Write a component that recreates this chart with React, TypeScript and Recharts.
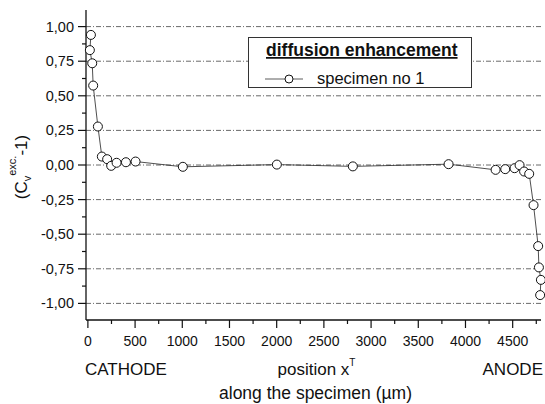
import React from "react";
import { Line, LineChart, ReferenceLine, XAxis, YAxis } from "recharts";

const FONT = '"Liberation Sans", Arial, Helvetica, sans-serif';
const INK = "#111";

// position x^T along the specimen (µm)
const positions = [
  32, 21, 46, 56, 106, 148, 204, 247, 304, 403, 505, 1006, 2002, 2807, 3821,
  4319, 4421, 4520, 4573, 4621, 4675, 4721, 4770, 4778, 4799, 4791,
];
// (Cv_exc - 1), specimen no 1
const enhancement = [
  0.94, 0.83, 0.735, 0.574, 0.278, 0.061, 0.042, -0.006, 0.016, 0.02, 0.025,
  -0.013, 0.003, -0.01, 0.006, -0.035, -0.03, -0.023, -0.001, -0.047, -0.064,
  -0.29, -0.586, -0.74, -0.83, -0.94,
];

const xMajor = [0, 500, 1000, 1500, 2000, 2500, 3000, 3500, 4000, 4500];
const xMinor = [250, 750, 1250, 1750, 2250, 2750, 3250, 3750, 4250, 4750];
const yMajor = [-1, -0.75, -0.5, -0.25, 0, 0.25, 0.5, 0.75, 1];
const yMinor = [-0.875, -0.625, -0.375, -0.125, 0.125, 0.375, 0.625, 0.875];

const xTicks = [...xMajor, ...xMinor].sort((a, b) => a - b);
const yTicks = [...yMajor, ...yMinor].sort((a, b) => a - b);

const data = positions.map((x, i) => ({ x, y: enhancement[i] }));

const fmtY = (v: number) => v.toFixed(2).replace(".", ",");

function BottomTick({ x, y, payload }: any) {
  const major = xMajor.includes(payload.value);
  return (
    <g>
      <line x1={x} x2={x} y1={y} y2={y + (major ? 8 : 4)} stroke={INK} strokeWidth={1.2} />
      {major && (
        <text x={x} y={y + 26} textAnchor="middle" fontSize={14} fontFamily={FONT} fill={INK}>
          {payload.value}
        </text>
      )}
    </g>
  );
}

function TopTick({ x, y, payload }: any) {
  const major = xMajor.includes(payload.value);
  return <line x1={x} x2={x} y1={y} y2={y + (major ? 7 : 4)} stroke={INK} strokeWidth={1.2} />;
}

function LeftTick({ x, y, payload }: any) {
  const major = yMajor.includes(payload.value);
  return (
    <g>
      <line x1={x - (major ? 8 : 4)} x2={x} y1={y} y2={y} stroke={INK} strokeWidth={1.2} />
      {major && (
        <text x={x - 12} y={y + 5} textAnchor="end" fontSize={14.5} fontFamily={FONT} fill={INK}>
          {fmtY(payload.value)}
        </text>
      )}
    </g>
  );
}

function RightTick({ x, y, payload }: any) {
  const major = yMajor.includes(payload.value);
  return <line x1={x - (major ? 7 : 4)} x2={x} y1={y} y2={y} stroke={INK} strokeWidth={1.2} />;
}

function XTitles({ viewBox }: any) {
  const { x, y, width } = viewBox;
  const cx = x + width / 2;
  return (
    <g fontFamily={FONT} fontSize={17} fill={INK}>
      <text x={x - 1} y={y + 55}>CATHODE</text>
      <text x={cx + 3} y={y + 55} textAnchor="middle">
        position x<tspan fontSize={10} dy={-9}>T</tspan>
      </text>
      <text x={x + width + 2} y={y + 55} textAnchor="end">ANODE</text>
      <text x={cx + 2} y={y + 79} textAnchor="middle" fontSize={17.5}>
        along the specimen (µm)
      </text>
    </g>
  );
}

function YTitle() {
  return (
    <text
      transform="translate(27,167) rotate(-90)"
      textAnchor="middle"
      fontFamily={FONT}
      fontSize={17}
      fill={INK}
    >
      (C<tspan fontSize={11} dy={4}>v</tspan>
      <tspan fontSize={11} dy={-15}>exc.</tspan>
      <tspan dy={11}>-1)</tspan>
    </text>
  );
}

function LegendBox() {
  return (
    <svg
      width={545}
      height={404}
      style={{ position: "absolute", left: 0, top: 0, pointerEvents: "none" }}
    >
      <rect x={248.5} y={37.5} width={223} height={50} fill="#fff" stroke="#333" strokeWidth={1} />
      <text
        x={266}
        y={56}
        fontFamily={FONT}
        fontSize={17.5}
        fontWeight="bold"
        textDecoration="underline"
        fill={INK}
      >
        diffusion enhancement
      </text>
      <line x1={265} x2={303} y1={79} y2={79} stroke="#333" strokeWidth={0.8} />
      <circle cx={289} cy={79} r={4} fill="#fff" stroke={INK} strokeWidth={1} />
      <text x={317} y={84} fontFamily={FONT} fontSize={16.5} fill={INK}>
        specimen no 1
      </text>
    </svg>
  );
}

export default function App() {
  return (
    <div style={{ position: "absolute", left: 0, top: 0, width: 545, height: 404, background: "#fff" }}>
      <LineChart
        width={545}
        height={404}
        data={data}
        margin={{ top: 10, right: 4, bottom: 0, left: 0 }}
      >
        <XAxis
          dataKey="x"
          type="number"
          domain={[-20, 4800]}
          ticks={xTicks}
          interval={0}
          height={84}
          tickSize={0}
          tickMargin={0}
          tickLine={false}
          tick={BottomTick}
          axisLine={{ stroke: INK, strokeWidth: 1.3 }}
          label={XTitles}
        />
        <XAxis
          xAxisId="top"
          orientation="top"
          type="number"
          domain={[-20, 4800]}
          ticks={xTicks}
          interval={0}
          height={0}
          tickSize={0}
          tickMargin={0}
          tickLine={false}
          tick={TopTick}
          axisLine={{ stroke: INK, strokeWidth: 1.3 }}
        />
        <YAxis
          type="number"
          domain={[-1.12, 1.12]}
          ticks={yTicks}
          interval={0}
          width={86}
          tickSize={0}
          tickMargin={0}
          tickLine={false}
          tick={LeftTick}
          axisLine={{ stroke: INK, strokeWidth: 1.3 }}
          label={YTitle}
        />
        <YAxis
          yAxisId="right"
          orientation="right"
          type="number"
          domain={[-1.12, 1.12]}
          ticks={yTicks}
          interval={0}
          width={0}
          tickSize={0}
          tickMargin={0}
          tickLine={false}
          tick={RightTick}
          axisLine={{ stroke: INK, strokeWidth: 1.3 }}
        />
        {yMajor.map((v) => (
          <ReferenceLine key={v} y={v} stroke="#444" strokeWidth={0.8} strokeDasharray="5 2 1 2" />
        ))}
        <Line
          type="linear"
          dataKey="y"
          stroke="#222"
          strokeWidth={0.8}
          dot={{ r: 4.5, stroke: INK, strokeWidth: 1, fill: "#fff" }}
          isAnimationActive={false}
        />
      </LineChart>
      <LegendBox />
    </div>
  );
}
